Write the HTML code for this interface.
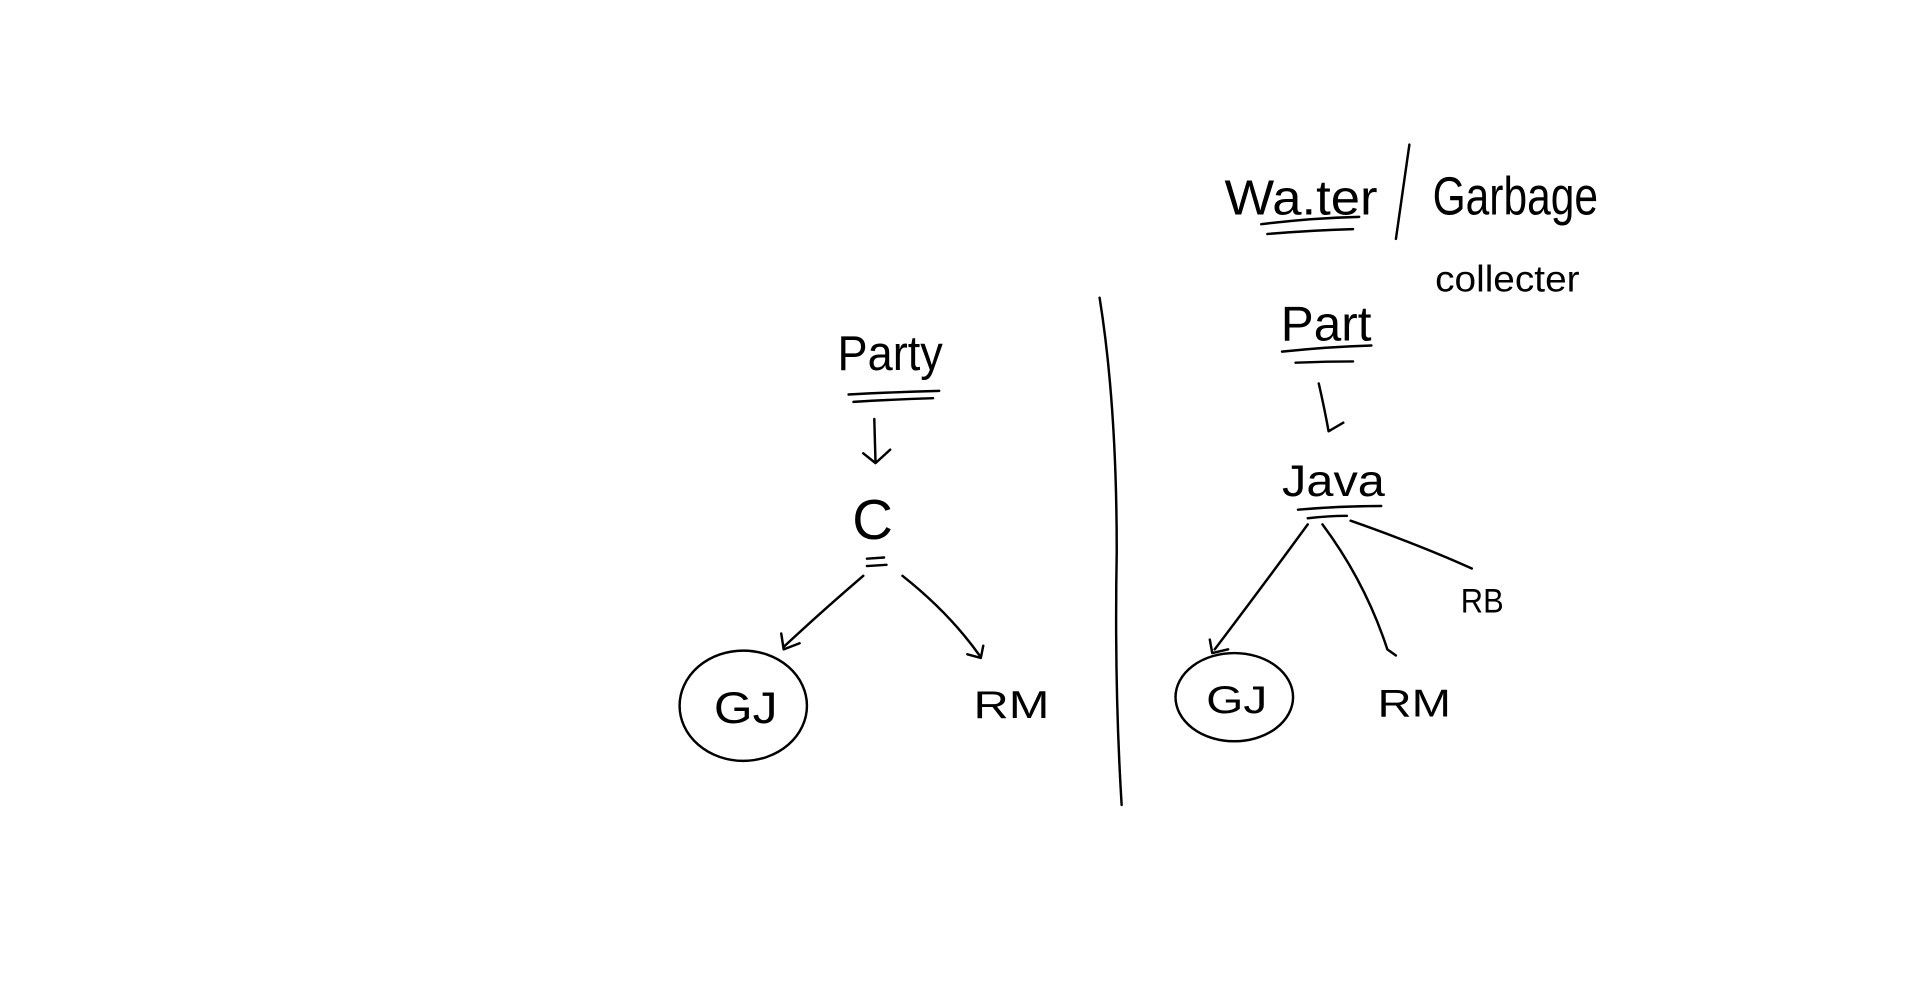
<!DOCTYPE html>
<html><head><meta charset="utf-8"><style>
html,body{margin:0;padding:0;background:#fff;width:1920px;height:1001px;overflow:hidden}
svg{display:block}
text{font-family:"Liberation Sans",sans-serif;fill:#000;font-weight:normal}
</style></head><body>
<svg width="1920" height="1001" viewBox="0 0 1568 817" preserveAspectRatio="none" xmlns="http://www.w3.org/2000/svg">
<g fill="none" stroke="#000" stroke-width="2" stroke-linecap="round" stroke-linejoin="round">
<!-- title underlines -->
<path d="M1030 183 Q1070 178 1110 177"/>
<path d="M1035 191 Q1070 188 1105 187"/>
<path d="M1151 118 L1140 195"/>
<!-- divider -->
<path d="M898 243 Q912 330 912 450 Q910 560 916 657"/>
<!-- left tree -->
<path d="M693 322 Q730 320 767 319"/>
<path d="M697 328 Q730 326 762 325"/>
<path d="M714 342 L715 377 M705 370 L715 378 L727 367"/>
<path d="M708 456 L722 455 M708 462 L724 461"/>
<path d="M705 470 Q670 500 640 528 M638 517 L640 530 L653 525"/>
<path d="M737 470 Q775 500 800 535 M790 534 L801 537 L803 527"/>
<ellipse cx="607" cy="576" rx="52" ry="45"/>
<!-- right tree -->
<path d="M1047 287 Q1085 283 1120 282"/>
<path d="M1058 296 Q1085 295 1105 295"/>
<path d="M1077 313 Q1082 335 1085 352 L1097 345"/>
<path d="M1060 416 Q1095 413 1128 413"/>
<path d="M1068 423 Q1085 421 1100 421"/>
<path d="M1068 428 Q1030 480 992 530 M988 522 L990 533 L1003 530"/>
<path d="M1080 428 Q1115 475 1133 530 L1140 535"/>
<path d="M1103 425 Q1160 445 1202 464"/>
<ellipse cx="1008" cy="569" rx="48" ry="36"/>
</g>
<g>
<text x="1000" y="175" font-size="40" textLength="125" lengthAdjust="spacingAndGlyphs">Wa.ter</text>
<text x="1170" y="175" font-size="44" textLength="135" lengthAdjust="spacingAndGlyphs">Garbage</text>
<text x="1172" y="238" font-size="30" textLength="118" lengthAdjust="spacingAndGlyphs">collecter</text>
<text x="684" y="302" font-size="40" textLength="86" lengthAdjust="spacingAndGlyphs">Party</text>
<text x="696" y="440" font-size="46">C</text>
<text x="583" y="590" font-size="36" textLength="52" lengthAdjust="spacingAndGlyphs">GJ</text>
<text x="795" y="586" font-size="32" textLength="62" lengthAdjust="spacingAndGlyphs">RM</text>
<text x="1046" y="278" font-size="40" textLength="74" lengthAdjust="spacingAndGlyphs">Part</text>
<text x="1047" y="405" font-size="36" textLength="84" lengthAdjust="spacingAndGlyphs">Java</text>
<text x="985" y="582" font-size="32" textLength="50" lengthAdjust="spacingAndGlyphs">GJ</text>
<text x="1125" y="585" font-size="32" textLength="60" lengthAdjust="spacingAndGlyphs">RM</text>
<text x="1193" y="500" font-size="28" textLength="35" lengthAdjust="spacingAndGlyphs">RB</text>
</g>
</svg>
</body></html>
